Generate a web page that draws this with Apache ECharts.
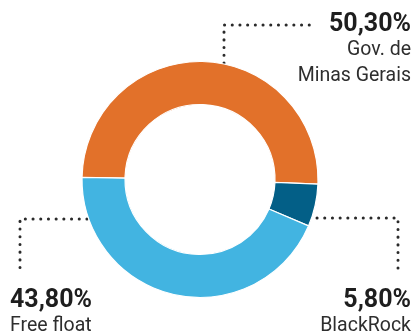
<!DOCTYPE html>
<html>
<head>
<meta charset="utf-8">
<script src="https://cdn.jsdelivr.net/npm/echarts@6/dist/echarts.min.js"></script>
<style>
html,body{margin:0;padding:0;background:#fff;}
#c{width:414px;height:336px;}
</style>
</head>
<body>
<div id="c"></div>
<script>
var names = ['Gov. de\nMinas Gerais', 'BlackRock', 'Free float'];
var values = [50.3, 5.8, 43.8];
var valueLabels = ['50,30%', '5,80%', '43,80%'];
var colors = ['#E2712A', '#035F87', '#42B4E1'];

var chart = echarts.init(document.getElementById('c'));

// label anchor positions (annotation layout)
var labelPos = [
  {x: 411, y: 13, align: 'right', pts: [[224, 63], [224, 25], [313, 25]]},
  {x: 411, y: 289, align: 'right', pts: [[317, 218], [398, 218], [398, 270]]},
  {x: 10, y: 289, align: 'left', pts: [[87, 219], [20, 219], [20, 273]]}
];

chart.setOption({
  animation: false,
  series: [{
    type: 'pie',
    center: [200, 179.5],
    radius: [75, 118],
    startAngle: 179,
    clockwise: true,
    avoidLabelOverlap: false,
    itemStyle: {borderColor: '#fff', borderWidth: 1.2},
    data: values.map(function (v, i) {
      return {value: v, name: names[i], itemStyle: {color: colors[i]}};
    }),
    label: {
      show: true,
      formatter: function (p) {
        return '{v|' + valueLabels[p.dataIndex] + '}\n{n|' + p.name.split('\n').join('}\n{n|') + '}';
      },
      rich: {
        v: {fontFamily: 'Roboto', fontWeight: 'bold', fontSize: 25, lineHeight: 24, color: '#1e1e1e'},
        n: {fontFamily: 'Roboto', fontSize: 19.5, lineHeight: 26, color: '#2e2e2e'}
      }
    },
    labelLine: {
      show: true,
      lineStyle: {color: '#2a2a2a', width: 3, type: [0.1, 7.6], cap: 'round'}
    },
    labelLayout: function (params) {
      var lp = labelPos[params.dataIndex];
      return {
        x: lp.x, y: lp.y, align: lp.align, verticalAlign: 'top',
        labelLinePoints: lp.pts
      };
    }
  }]
});
</script>
</body>
</html>
